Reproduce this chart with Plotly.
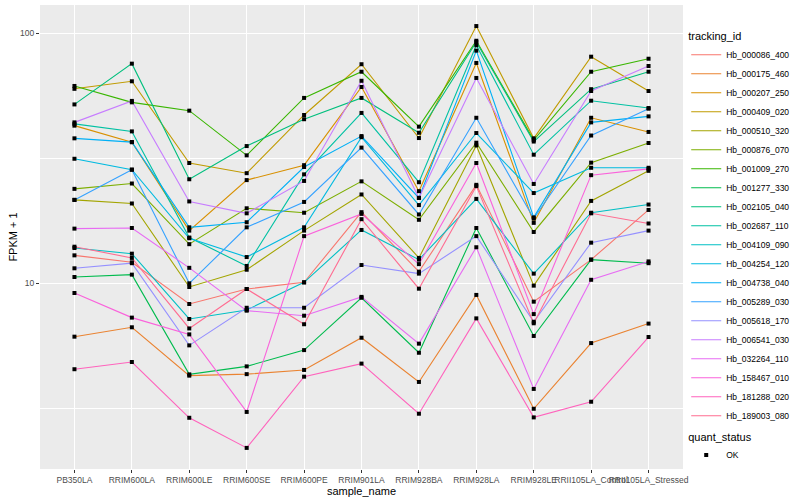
import plotly.graph_objects as go

# ---------------- data ----------------
sample_names = ["PB350LA", "RRIM600LA", "RRIM600LE", "RRIM600SE", "RRIM600PE",
                "RRIM901LA", "RRIM928BA", "RRIM928LA", "RRIM928LE",
                "RRII105LA_Control", "RRII105LA_Stressed"]

hb_000086_400 = [12.9, 12.1, 8.24, 9.46, 10.06, 19.2, 11.1, 24.7, 8.42, 12.4, 19.6]
hb_000175_460 = [6.1, 6.65, 4.26, 4.32, 4.49, 6.04, 4.02, 8.96, 3.14, 5.75, 6.88]
hb_000207_250 = [42.6, 36.6, 16.2, 25.8, 29.6, 60.8, 23.3, 75.9, 17.4, 45.8, 40.2]
hb_000409_020 = [59.8, 64.1, 30.2, 27.5, 47.0, 75.0, 38.0, 106.6, 37.9, 80.4, 58.6]
hb_000510_320 = [21.5, 20.8, 9.64, 11.3, 16.2, 22.6, 12.6, 35.5, 9.76, 21.3, 28.1]
hb_000876_070 = [23.8, 25.0, 14.3, 19.9, 19.1, 25.5, 17.9, 36.4, 16.0, 30.3, 36.3]
hb_001009_270 = [61.4, 52.8, 48.9, 32.4, 55.0, 70.0, 42.2, 93.1, 37.3, 70.0, 78.9]
hb_001277_330 = [10.57, 10.8, 4.31, 4.64, 5.39, 8.73, 5.26, 16.6, 6.14, 12.4, 12.0]
hb_002105_040 = [51.8, 75.4, 26.0, 35.3, 45.2, 55.0, 39.9, 92.0, 36.8, 59.6, 70.0]
hb_002687_110 = [43.3, 40.4, 15.2, 11.7, 27.2, 47.9, 25.3, 89.3, 32.6, 53.6, 50.1]
hb_004109_090 = [13.8, 13.1, 7.18, 7.8, 10.06, 16.3, 12.4, 21.7, 10.9, 19.1, 20.6]
hb_004254_120 = [31.4, 28.4, 15.1, 12.7, 16.7, 38.3, 20.5, 39.8, 22.9, 28.9, 28.9]
hb_004738_040 = [37.9, 36.6, 16.7, 17.5, 29.1, 38.7, 21.9, 85.0, 18.3, 43.9, 46.4]
hb_005289_030 = [21.5, 28.4, 9.97, 16.7, 21.1, 34.8, 18.8, 45.8, 18.1, 38.9, 49.8]
hb_005618_170 = [11.45, 12.0, 5.63, 7.96, 7.96, 11.8, 10.9, 15.4, 7.0, 14.5, 16.2]
hb_006541_030 = [43.9, 53.5, 21.2, 19.0, 25.6, 64.4, 21.9, 66.1, 24.9, 58.6, 73.8]
hb_032264_110 = [16.5, 16.6, 11.5, 7.75, 7.4, 8.8, 5.72, 13.9, 3.77, 10.3, 12.2]
hb_158467_010 = [9.12, 7.27, 6.23, 3.05, 15.4, 18.9, 11.9, 30.2, 7.51, 27.0, 28.6]
hb_181288_020 = [4.52, 4.83, 2.89, 2.19, 4.22, 4.76, 3.0, 7.22, 2.9, 3.35, 6.08]
hb_189003_080 = [13.97, 12.6, 6.58, 9.46, 6.84, 18.0, 9.49, 24.4, 6.9, 19.0, 17.3]

tracking_ids = ["Hb_000086_400", "Hb_000175_460", "Hb_000207_250", "Hb_000409_020",
                "Hb_000510_320", "Hb_000876_070", "Hb_001009_270", "Hb_001277_330",
                "Hb_002105_040", "Hb_002687_110", "Hb_004109_090", "Hb_004254_120",
                "Hb_004738_040", "Hb_005289_030", "Hb_005618_170", "Hb_006541_030",
                "Hb_032264_110", "Hb_158467_010", "Hb_181288_020", "Hb_189003_080"]

series_values = [hb_000086_400, hb_000175_460, hb_000207_250, hb_000409_020,
                 hb_000510_320, hb_000876_070, hb_001009_270, hb_001277_330,
                 hb_002105_040, hb_002687_110, hb_004109_090, hb_004254_120,
                 hb_004738_040, hb_005289_030, hb_005618_170, hb_006541_030,
                 hb_032264_110, hb_158467_010, hb_181288_020, hb_189003_080]

hue_colors = ["#F8766D", "#EA8331", "#D89000", "#C09B00", "#A3A500", "#7CAE00",
              "#39B600", "#00BB4E", "#00BF7D", "#00C1A3", "#00BFC4", "#00BAE0",
              "#00B0F6", "#35A2FF", "#9590FF", "#C77CFF", "#E76BF3", "#FA62DB",
              "#FF62BC", "#FF6C91"]

quant_status = "OK"

# ---------------- figure ----------------
FONT = "Liberation Sans, Arial, sans-serif"
fig = go.Figure()

for i, (name, vals, col) in enumerate(zip(tracking_ids, series_values, hue_colors)):
    fig.add_trace(go.Scatter(
        x=sample_names, y=vals, mode="lines", name=name,
        line=dict(color=col, width=1.1),
        legend="legend", hoverinfo="x+y+name"))

all_x = []
all_y = []
for vals in series_values:
    all_x.extend(sample_names)
    all_y.extend(vals)

fig.add_trace(go.Scatter(
    x=all_x, y=all_y, mode="markers", name=quant_status,
    marker=dict(symbol="square", size=4, color="black"),
    legend="legend2"))

fig.update_layout(
    template="none",
    width=800, height=500,
    margin=dict(l=40, r=117, t=5, b=31, autoexpand=False),
    paper_bgcolor="white", plot_bgcolor="#EBEBEB",
    font=dict(family=FONT, size=10, color="black"),
    showlegend=True,
    legend=dict(
        title=dict(text="tracking_id", font=dict(size=11, color="black")),
        x=1.005, xanchor="left", y=0.955, yanchor="top",
        font=dict(size=8.5, color="black"),
        itemwidth=30, tracegroupgap=0, bgcolor="rgba(0,0,0,0)",
        borderwidth=0),
    legend2=dict(
        title=dict(text="quant_status", font=dict(size=11, color="black")),
        x=1.005, xanchor="left", y=0.092, yanchor="top",
        font=dict(size=8.5, color="black"),
        itemwidth=30, bgcolor="rgba(0,0,0,0)", borderwidth=0),
)

fig.update_xaxes(
    type="category", categoryorder="array", categoryarray=sample_names,
    range=[-0.6, 10.6], showgrid=True, gridcolor="white", gridwidth=1.1,
    ticks="outside", ticklen=3, tickcolor="#333333", tickwidth=1,
    tickangle=0, tickfont=dict(size=8.5, color="#4D4D4D", family=FONT),
    title=dict(text="sample_name", font=dict(size=11, color="black"), standoff=0),
    automargin=False, zeroline=False, showline=False)

fig.update_yaxes(
    type="log", range=[0.256, 2.112],
    tickmode="array", tickvals=[10, 100], ticktext=["10", "100"],
    showgrid=True, gridcolor="white", gridwidth=1.1,
    minor=dict(tickmode="array", tickvals=[10 ** 0.5, 10 ** 1.5], showgrid=True,
               gridcolor="white", gridwidth=0.5, ticks=""),
    ticks="outside", ticklen=3, tickcolor="#333333", tickwidth=1,
    tickfont=dict(size=8.5, color="#4D4D4D", family=FONT),
    title=dict(text="FPKM + 1", font=dict(size=11, color="black"), standoff=0),
    automargin=False, zeroline=False, showline=False)

fig.write_html("out.html", config={"displayModeBar": False},
               post_script="document.body.style.margin='0px';")
